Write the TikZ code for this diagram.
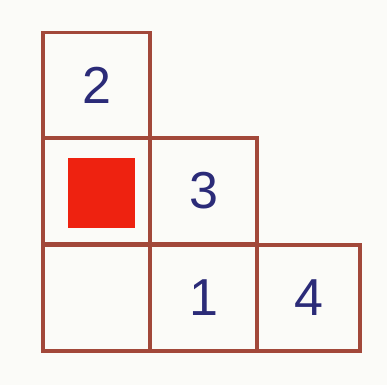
\documentclass[tikz,border=0pt]{standalone}
\usepackage{fontspec}
\setmainfont{Liberation Sans}
\definecolor{ink}{HTML}{A2483A}
\definecolor{pen}{HTML}{2B2B78}
\definecolor{paper}{HTML}{FBFBF8}
\definecolor{redsq}{HTML}{EE2210}
\begin{document}
\begin{tikzpicture}[x=1pt,y=-1pt,
  cell/.style={draw=ink,line width=3.5pt,minimum width=107pt,minimum height=106pt,inner sep=0pt,
    font=\fontsize{52}{56}\selectfont,text=pen,anchor=center},
  redbox/.style={fill=redsq,minimum width=67pt,minimum height=70pt,inner sep=0pt}]
\fill[paper] (0,0) rectangle (387,385);
\useasboundingbox (0,0) rectangle (387,385);
\node[cell] (c2) at (96.5,85.5) {2};
\node[cell] (cr) at (96.5,191) {};
\node[cell] (c3) at (203.5,191) {3};
\node[cell] (ce) at (96.5,298) {};
\node[cell] (c1) at (203.5,298) {1};
\node[cell,minimum width=103pt] (c4) at (308.5,298) {4};
\node[redbox] (rs) at (101.5,193) {};
\end{tikzpicture}
\end{document}
